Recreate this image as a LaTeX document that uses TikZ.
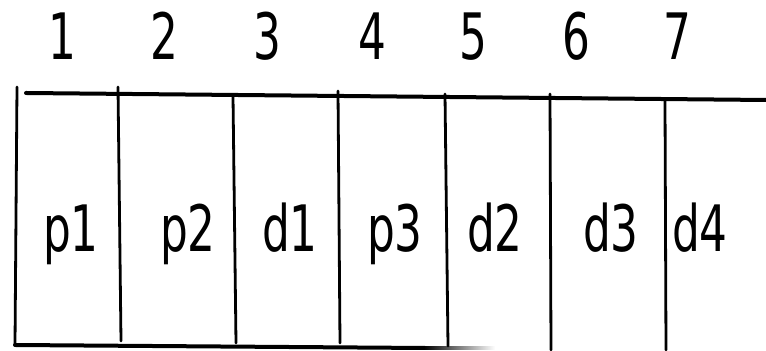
\documentclass[tikz,border=0pt]{standalone}
\usepackage{fontspec}
\setmainfont[FakeStretch=0.76]{DejaVu Sans Condensed}
\usepackage{tikz}
\usetikzlibrary{positioning}

\begin{document}
\begin{tikzpicture}[
  x=0.5pt, y=-0.5pt,
  every node/.style={font=\fontsize{32}{36}\selectfont, inner sep=0pt, anchor=base},
  rule/.style={line width=2pt, line cap=round},
  divider/.style={line width=1.4pt, line cap=round}
]
\useasboundingbox (0,0) rectangle (766,351);

% slot numbers
\node (n1) at (62,60)  {1};
\node (n2) at (164,60) {2};
\node (n3) at (267,60) {3};
\node (n4) at (372,60) {4};
\node (n5) at (473,60) {5};
\node (n6) at (576,60) {6};
\node (n7) at (677,60) {7};

% frame
\draw[rule] (26,93) -- (766,100);
\draw[rule] (15,345) -- (425,348);
\shade[left color=black, right color=white] (424,346.5) rectangle (495,349.5);
\draw[divider] (17,87) -- (15,345);

% cell borders
\draw[divider] (118,87)  -- (121,341);
\draw[divider] (233,96)  -- (236,343);
\draw[divider] (338,91)  -- (340,343);
\draw[divider] (445,94)  -- (448,346);
\draw[divider] (550,94)  -- (551,350);
\draw[divider] (665,101) -- (666,350);

% packets
\node (p1) at (71,252)  {p1};
\node (p2) at (188,252) {p2};
\node (d1) at (290,252) {d1};
\node (p3) at (395,252) {p3};
\node (d2) at (495,252) {d2};
\node (d3) at (611,252) {d3};
\node (d4) at (700,252) {d4};
\end{tikzpicture}
\end{document}
